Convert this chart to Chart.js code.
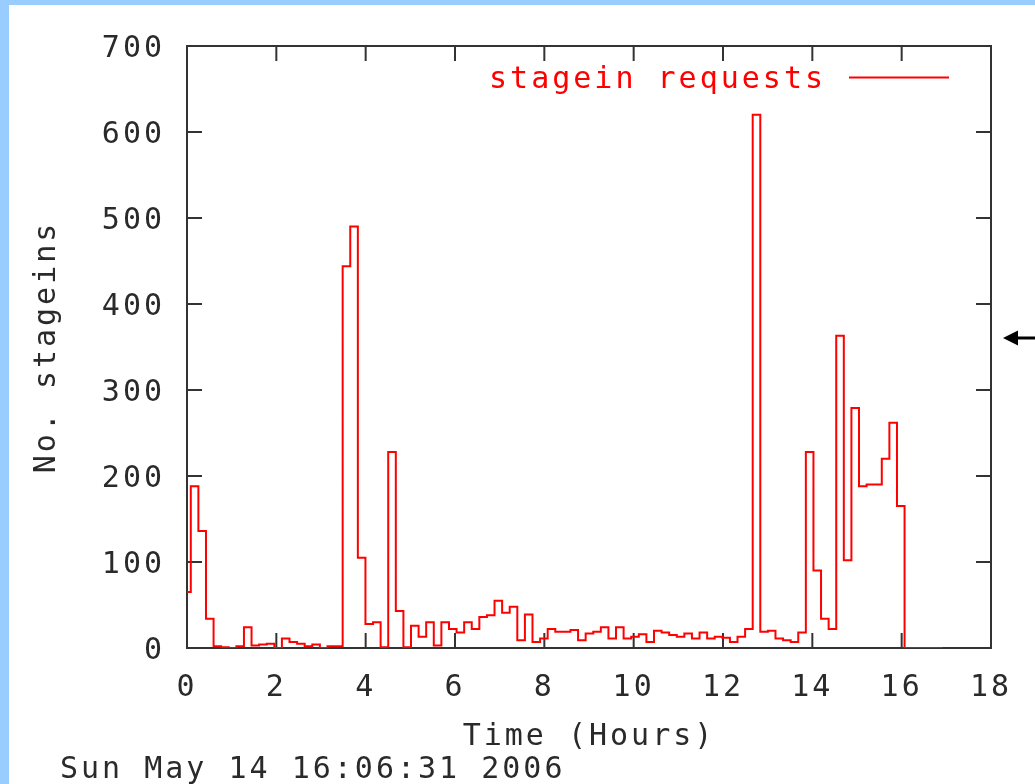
<!DOCTYPE html>
<html><head><meta charset="utf-8">
<script src="https://cdn.jsdelivr.net/npm/chart.js@4.4.1/dist/chart.umd.min.js"></script>
<style>
html,body{margin:0;padding:0;width:1035px;height:784px;overflow:hidden;background:#99ccff;}
#white{position:absolute;left:9px;top:5px;width:1026px;height:779px;background:#fff;}
#c{position:absolute;left:0;top:0;}
#arrow{position:absolute;left:0;top:0;}
</style></head><body>
<div id="white"></div>
<canvas id="c" width="1035" height="784"></canvas>
<svg id="arrow" width="1035" height="784"><polygon points="1003,338 1018,330.5 1018,345.5" fill="#000"/><rect x="1016" y="336.5" width="19" height="3" fill="#000"/></svg>
<script>
// ---- data ----
const seriesLabel = 'stagein requests';
const xAxisTitle = 'Time (Hours)';
const yAxisTitle = 'No. stageins';
const timestampText = 'Sun May 14 16:06:31 2006';
const sampleIntervalHours = 0.17;   // one sample roughly every 10 minutes
const stageinRequests = [
  65,188,136,34,2,1,0,2,24,3,
  4,5,0,11,7,5,2,4,0,2,
  2,444,490,105,28,30,1,228,43,1,
  26,13,30,3,30,22,18,30,22,36,
  38,55,41,48,9,39,7,11,22,19,
  19,21,9,17,19,24,11,24,11,13,
  16,7,20,18,15,13,17,11,18,11,
  13,12,7,13,22,620,19,20,11,9,
  7,18,228,90,34,22,363,102,279,188,
  190,190,220,262,165,0,0,0,0,0
];
const xRange = [0, 18];
const xTickStep = 2;
const yRange = [0, 700];
const yTickStep = 100;

// ---- build histogram-step table (gnuplot "histeps") ----
const sampleTimes = stageinRequests.map((_, k) => k * sampleIntervalHours);
const half = sampleIntervalHours / 2;
const stepPoints = stageinRequests.map((v, k) => ({x: sampleTimes[k] - half, y: v}));
stepPoints.push({x: sampleTimes[sampleTimes.length - 1] + half, y: stageinRequests[stageinRequests.length - 1]});

const FAMILY = "'DejaVu Sans Mono', monospace";
const FONT = {family: FAMILY, size: 30, weight: 'normal', lineHeight: 1.2};
const TEXT = '#2a2a2a';
const SPACING = '3px';

const spacingPlugin = {
  id: 'spacing',
  beforeUpdate(c) { c.ctx.letterSpacing = SPACING; },
  beforeDraw(c) { c.ctx.letterSpacing = SPACING; }
};

const framePlugin = {
  id: 'frame',
  beforeDatasetsDraw(chart) {
    const {ctx, chartArea: a, scales: {x, y}} = chart;
    ctx.save();
    ctx.strokeStyle = '#333';
    ctx.lineWidth = 2;
    ctx.strokeRect(a.left, a.top, a.right - a.left, a.bottom - a.top);
    ctx.beginPath();
    const L = 15;
    x.ticks.forEach(t => {
      const px = x.getPixelForValue(t.value);
      ctx.moveTo(px, a.bottom); ctx.lineTo(px, a.bottom - L);
      ctx.moveTo(px, a.top); ctx.lineTo(px, a.top + L);
    });
    y.ticks.forEach(t => {
      const py = y.getPixelForValue(t.value);
      ctx.moveTo(a.left, py); ctx.lineTo(a.left + L, py);
      ctx.moveTo(a.right, py); ctx.lineTo(a.right - L, py);
    });
    ctx.stroke();
    ctx.restore();
  }
};

const keyPlugin = {
  id: 'key',
  afterDraw(chart) {
    const {ctx, chartArea: a} = chart;
    const ds = chart.data.datasets[0];
    ctx.save();
    ctx.letterSpacing = SPACING;
    ctx.font = `${FONT.size}px ${FAMILY}`;
    // key inside the plot, top right
    const lineEnd = a.right - 42, lineStart = lineEnd - 100, ky = a.top + 31.5;
    ctx.fillStyle = ds.borderColor;
    ctx.textAlign = 'right';
    ctx.textBaseline = 'alphabetic';
    ctx.fillText(ds.label, lineStart - 23, a.top + 42);
    ctx.strokeStyle = ds.borderColor;
    ctx.lineWidth = 2;
    ctx.beginPath(); ctx.moveTo(lineStart, ky); ctx.lineTo(lineEnd, ky); ctx.stroke();
    // timestamp
    ctx.fillStyle = TEXT;
    ctx.textAlign = 'left';
    ctx.textBaseline = 'middle';
    ctx.fillText(timestampText, 60, 770);
    ctx.restore();
  }
};

new Chart(document.getElementById('c'), {
  type: 'line',
  data: {
    datasets: [{
      label: seriesLabel,
      data: stepPoints,
      stepped: 'before',
      borderColor: '#ff0000',
      borderWidth: 2,
      pointRadius: 0,
      fill: false,
      clip: 0
    }]
  },
  options: {
    responsive: false,
    animation: false,
    devicePixelRatio: 1,
    layout: {padding: {left: 0, top: 46, right: 44, bottom: 0}},
    plugins: {legend: {display: false}, tooltip: {enabled: false}},
    scales: {
      x: {
        type: 'linear', position: 'bottom', min: xRange[0], max: xRange[1],
        ticks: {stepSize: xTickStep, font: FONT, color: TEXT, padding: 22, maxRotation: 0, autoSkip: false},
        grid: {drawOnChartArea: false, drawTicks: false},
        border: {display: false},
        title: {display: true, text: xAxisTitle, font: FONT, color: TEXT, padding: {top: 0, bottom: 29}},
        afterFit: s => { s.height = 136; }
      },
      y: {
        type: 'linear', position: 'left', min: yRange[0], max: yRange[1],
        ticks: {stepSize: yTickStep, font: FONT, color: TEXT, padding: 22, labelOffset: 3},
        grid: {drawOnChartArea: false, drawTicks: false},
        border: {display: false},
        title: {display: true, text: yAxisTitle, font: FONT, color: TEXT, padding: {top: 29, bottom: 0}},
        afterFit: s => { s.width = 187; }
      }
    }
  },
  plugins: [spacingPlugin, framePlugin, keyPlugin]
});
</script>
</body></html>
